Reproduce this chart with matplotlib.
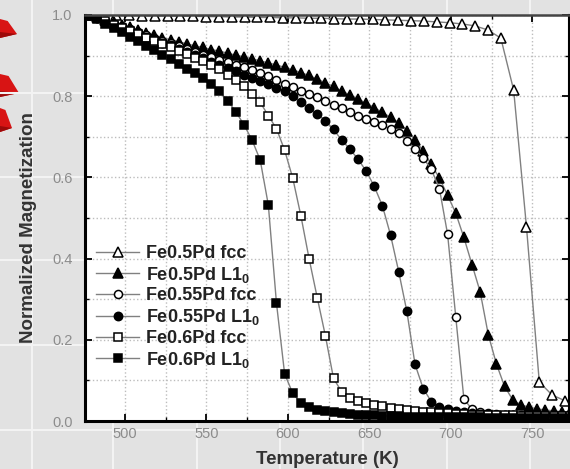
import numpy as np
import matplotlib.pyplot as plt

# temperatures (K) of the 5 K scans, shared by five series
temp = np.arange(478, 774, 5)

fe50_L1 = [1.0, 0.994, 0.988, 0.982, 0.976, 0.97, 0.963, 0.956, 0.95, 0.944,
           0.939, 0.934, 0.929, 0.924, 0.92, 0.915, 0.911, 0.906, 0.901, 0.897,
           0.892, 0.887, 0.882, 0.877, 0.871, 0.865, 0.858, 0.851, 0.842, 0.833,
           0.824, 0.813, 0.803, 0.793, 0.783, 0.772, 0.76, 0.748, 0.735, 0.715,
           0.693, 0.665, 0.632, 0.598, 0.556, 0.512, 0.452, 0.385, 0.318, 0.212,
           0.14, 0.085, 0.052, 0.04, 0.034, 0.03, 0.027, 0.025, 0.023, 0.021]
fe55_fcc = [1.0, 0.993, 0.986, 0.979, 0.972, 0.965, 0.958, 0.951, 0.944, 0.937,
            0.93, 0.923, 0.916, 0.909, 0.902, 0.896, 0.89, 0.884, 0.878, 0.872,
            0.865, 0.857, 0.849, 0.84, 0.831, 0.822, 0.814, 0.806, 0.797, 0.788,
            0.779, 0.77, 0.761, 0.752, 0.744, 0.736, 0.728, 0.72, 0.71, 0.69,
            0.67, 0.648, 0.62, 0.572, 0.46, 0.257, 0.054, 0.029, 0.022, 0.019,
            0.017, 0.016, 0.015, 0.014, 0.014, 0.013, 0.013, 0.012, 0.012, 0.012]
fe55_L1 = [1.0, 0.992, 0.984, 0.977, 0.97, 0.962, 0.955, 0.947, 0.94, 0.932,
           0.925, 0.917, 0.909, 0.901, 0.893, 0.885, 0.877, 0.869, 0.861, 0.853,
           0.845, 0.838, 0.83, 0.821, 0.812, 0.8, 0.786, 0.771, 0.756, 0.74,
           0.718, 0.692, 0.67, 0.645, 0.616, 0.578, 0.53, 0.458, 0.368, 0.27,
           0.14, 0.08, 0.048, 0.035, 0.029, 0.025, 0.022, 0.02, 0.018, 0.017,
           0.016, 0.015, 0.014, 0.013, 0.013, 0.012, 0.012, 0.011, 0.011, 0.011]
fe60_fcc = [1.0, 0.992, 0.984, 0.976, 0.968, 0.96, 0.952, 0.944, 0.936, 0.928,
            0.92, 0.912, 0.904, 0.895, 0.886, 0.877, 0.866, 0.853, 0.84, 0.826,
            0.806, 0.785, 0.752, 0.72, 0.667, 0.598, 0.505, 0.4, 0.304, 0.21,
            0.105, 0.072, 0.057, 0.05, 0.045, 0.04, 0.036, 0.032, 0.029, 0.026,
            0.024, 0.022, 0.021, 0.02, 0.019, 0.018, 0.017, 0.016, 0.016, 0.015,
            0.015, 0.014, 0.014, 0.013, 0.013, 0.013, 0.012, 0.012, 0.012, 0.012]
fe60_L1 = [1.0, 0.99, 0.979, 0.968, 0.957, 0.946, 0.935, 0.924, 0.913, 0.902,
           0.891, 0.88, 0.868, 0.857, 0.845, 0.831, 0.812, 0.789, 0.762, 0.73,
           0.692, 0.643, 0.532, 0.29, 0.116, 0.068, 0.044, 0.034, 0.028, 0.024,
           0.021, 0.019, 0.017, 0.016, 0.015, 0.014, 0.013, 0.012, 0.012, 0.011,
           0.011, 0.01, 0.01, 0.01, 0.01, 0.009, 0.009, 0.009, 0.009, 0.008,
           0.008, 0.008, 0.008, 0.008, 0.007, 0.007, 0.007, 0.007, 0.007, 0.007]

# Fe0.5Pd fcc was measured on a coarser grid
temp_fcc50 = np.linspace(479, 770, 38)
fe50_fcc = [1.0, 1.0, 0.999, 0.999, 0.998, 0.998, 0.998, 0.997, 0.997, 0.996,
            0.996, 0.995, 0.995, 0.994, 0.994, 0.993, 0.993, 0.992, 0.992, 0.991,
            0.99, 0.99, 0.989, 0.988, 0.987, 0.986, 0.985, 0.983, 0.981, 0.978,
            0.973, 0.963, 0.943, 0.815, 0.478, 0.096, 0.064, 0.05]

labels = ['Fe0.5Pd fcc', 'Fe0.5Pd L1$_0$', 'Fe0.55Pd fcc', 'Fe0.55Pd L1$_0$',
          'Fe0.6Pd fcc', 'Fe0.6Pd L1$_0$']

plt.rcParams['font.family'] = ['Liberation Sans', 'DejaVu Sans']
plt.rcParams['mathtext.default'] = 'regular'

W, H = 570, 469
fig = plt.figure(figsize=(W / 100, H / 100), dpi=100, facecolor='#e2e2e2')

# slide background behind the chart
bg = fig.add_axes([0, 0, 1, 1], zorder=-1)
bg.set_xlim(0, W)
bg.set_ylim(H, 0)
bg.set_facecolor('#e2e2e2')
bg.axis('off')
for gx in [32, 113, 197, 280, 363, 447, 530]:
    bg.axvline(gx, color='#f3f3f3', lw=1.5)
for gy in [93, 177, 260, 345, 430]:
    bg.axhline(gy, color='#f3f3f3', lw=1.5)
for (y0, y1, tip) in [(19, 38, 17), (74, 97, 19), (108, 132, 12)]:
    bg.fill([0, tip * 0.45, tip, 0], [y0, y0 + 2, y1 - 4, y1], color='#d81414', lw=0)
    bg.fill([0, tip, 0], [y1 - 6, y1 - 4, y1], color='#9c0a0a', lw=0)

ax = fig.add_axes([85 / W, (H - 421) / H, 484 / W, 406 / H])
ax.set_facecolor('white')

line_col = '#808080'
styles = [('^', 'white', 7.5), ('^', 'black', 7.5), ('o', 'white', 5.8),
          ('o', 'black', 6.0), ('s', 'white', 5.5), ('s', 'black', 6.0)]
series = [(temp_fcc50, fe50_fcc), (temp, fe50_L1), (temp, fe55_fcc),
          (temp, fe55_L1), (temp, fe60_fcc), (temp, fe60_L1)]
for (x, y), (m, fc, ms), lab in zip(series, styles, labels):
    ax.plot(x, y, color=line_col, lw=1.0, marker=m, ms=ms, mfc=fc,
            mec='black', mew=1.1, label=lab)

ax.set_xlim(475.5, 772.5)
ax.set_ylim(0, 1.0)
ax.set_xticks([500, 550, 600, 650, 700, 750])
ax.set_xticks(np.arange(500, 775, 25), minor=True)
ax.set_yticks([0, 0.2, 0.4, 0.6, 0.8, 1.0])
ax.set_yticks(np.arange(0, 1.01, 0.1), minor=True)
ax.yaxis.set_major_formatter(plt.FormatStrFormatter('%.1f'))
ax.grid(True, which='both', color='#bdbdbd', ls=':', lw=1.0)
ax.set_axisbelow(True)

ax.tick_params(which='both', direction='in', top=True, right=True,
               colors='black', labelcolor='#8c8c8c', labelsize=10.5)
ax.tick_params(which='major', length=5, width=1.3)
ax.tick_params(which='minor', length=3, width=1.0)
ax.tick_params(axis='y', pad=9)
ax.tick_params(axis='x', pad=4)
for s in ['left', 'bottom']:
    ax.spines[s].set_linewidth(2.2)
ax.spines['top'].set_linewidth(1.8)
ax.spines['top'].set_color('#444444')
ax.spines['right'].set_linewidth(1.5)

fig.text(327 / W, (H - 459) / H, 'Temperature (K)', fontsize=13.5,
         fontweight='bold', color='#333333', ha='center', va='center')
fig.text(29 / W, (H - 343) / H, 'Normalized Magnetization', fontsize=13.5,
         fontweight='bold', color='#333333', rotation=90, ha='center', va='bottom')

leg = ax.legend(loc='upper left', bbox_to_anchor=(0.0, 0.46), frameon=False,
                fontsize=13, handlelength=2.4, handletextpad=0.4,
                labelspacing=0.15, borderaxespad=0.2)
for txt in leg.get_texts():
    txt.set_fontweight('bold')
    txt.set_color('#222222')

fig.savefig('out.png', dpi=100, facecolor=fig.get_facecolor())
